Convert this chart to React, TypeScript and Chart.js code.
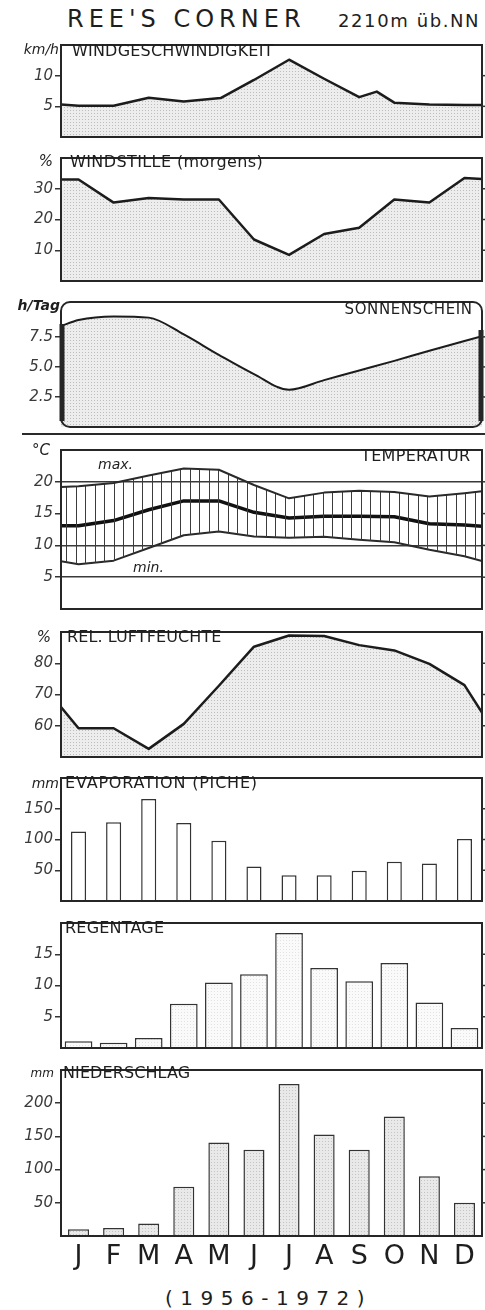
import React, { useEffect, useRef } from "react";
import { Chart, registerables } from "chart.js";

Chart.register(...registerables);

const FONT = '"DejaVu Sans", "Liberation Sans", sans-serif';

const months = ["J", "F", "M", "A", "M", "J", "J", "A", "S", "O", "N", "D"];

// WINDGESCHWINDIGKEIT (km/h) – x in months (0 = 1 Jan, 12 = 31 Dec)
const windX = [0, 0.5, 1.5, 2.5, 3.5, 4.55, 5.5, 6.5, 7.5, 8.5, 9.0, 9.5, 10.5, 11.5, 12];
const windY = [5.3, 5.1, 5.1, 6.4, 5.8, 6.35, 9.3, 12.6, 9.5, 6.5, 7.4, 5.6, 5.3, 5.2, 5.2];
const windTicks = [5, 10];
const windTickLabels = ["5", "10"];

// WINDSTILLE morgens (%)
const calmX = [0, 0.5, 1.5, 2.5, 3.5, 4.5, 5.5, 6.5, 7.5, 8.5, 9.5, 10.5, 11.5, 12];
const calmY = [33, 33, 25.5, 27, 26.5, 26.5, 13.5, 8.5, 15.3, 17.3, 26.5, 25.5, 33.5, 33.2];
const calmTicks = [10, 20, 30];
const calmTickLabels = ["10", "20", "30"];

// SONNENSCHEIN (h/Tag)
const sunX = [0, 0.5, 1.5, 2.5, 3.5, 4.5, 5.5, 6.5, 7.5, 8.5, 9.5, 10.5, 11.5, 12];
const sunY = [8.4, 8.9, 9.2, 9.1, 7.7, 6.0, 4.4, 3.1, 3.9, 4.7, 5.5, 6.35, 7.15, 7.55];
const sunTicks = [2.5, 5.0, 7.5];
const sunTickLabels = ["2.5", "5.0", "7.5"];

// TEMPERATUR (°C)
const tempX = [0, 0.5, 1.5, 2.5, 3.5, 4.5, 5.5, 6.5, 7.5, 8.5, 9.5, 10.5, 11.5, 12];
const tempMax = [19.2, 19.3, 19.8, 21.0, 22.1, 21.9, 19.5, 17.4, 18.3, 18.6, 18.4, 17.7, 18.2, 18.5];
const tempMean = [13.1, 13.1, 13.9, 15.6, 17.0, 17.0, 15.2, 14.3, 14.6, 14.6, 14.5, 13.4, 13.2, 13.0];
const tempMin = [7.5, 7.05, 7.6, 9.6, 11.6, 12.2, 11.4, 11.2, 11.35, 10.9, 10.5, 9.3, 8.3, 7.55];
const tempTicks = [5, 10, 15, 20];
const tempTickLabels = ["5", "10", "15", "20"];

// REL. LUFTFEUCHTE (%)
const rhX = [0, 0.5, 1.5, 2.5, 3.5, 4.5, 5.5, 6.5, 7.5, 8.5, 9.5, 10.5, 11.5, 12];
const rhY = [66, 59.2, 59.2, 52.6, 60.6, 72.8, 85.3, 88.9, 88.7, 85.8, 84.1, 79.8, 73, 64.2];
const rhTicks = [60, 70, 80];
const rhTickLabels = ["60", "70", "80"];

// EVAPORATION (PICHE) mm
const evap = [113, 128, 166, 127, 98, 56, 42, 42, 49, 64, 61, 101];
const evapTicks = [50, 100, 150];
const evapTickLabels = ["50", "100", "150"];

// REGENTAGE
const rainDays = [1.1, 0.85, 1.6, 7.1, 10.5, 11.8, 18.4, 12.8, 10.7, 13.6, 7.3, 3.2];
const rainDaysTicks = [5, 10, 15];
const rainDaysTickLabels = ["5", "10", "15"];

// NIEDERSCHLAG mm
const precip = [10, 12, 19, 74, 141, 130, 229, 153, 130, 180, 90, 50];
const precipTicks = [50, 100, 150, 200];
const precipTickLabels = ["50", "100", "150", "200"];

const W = 485;
const PAD = 4;

function pts(xs: number[], ys: number[]) {
  return xs.map((x, i) => ({ x, y: ys[i] }));
}

function dotPattern(ctx: CanvasRenderingContext2D, bg: string, dot: string) {
  const c = document.createElement("canvas");
  c.width = 3;
  c.height = 3;
  const g = c.getContext("2d")!;
  g.fillStyle = bg;
  g.fillRect(0, 0, 3, 3);
  g.fillStyle = dot;
  g.fillRect(1, 1, 1, 1);
  return ctx.createPattern(c, "repeat")!;
}

function hatchPattern(ctx: CanvasRenderingContext2D) {
  const c = document.createElement("canvas");
  c.width = 19;
  c.height = 4;
  const g = c.getContext("2d")!;
  g.fillStyle = "#3c3c3c";
  g.fillRect(0, 0, 1, 4);
  g.fillRect(9, 0, 1, 4);
  return ctx.createPattern(c, "repeat")!;
}

const framePlugin = {
  id: "frame",
  afterDatasetsDraw(chart: any, _args: any, opts: any) {
    const { ctx, chartArea: a } = chart;
    ctx.save();
    ctx.strokeStyle = "#262626";
    ctx.lineWidth = 2;
    if (opts && opts.rounded) {
      ctx.beginPath();
      (ctx as any).roundRect(a.left, a.top, a.right - a.left, a.bottom - a.top, 9);
      ctx.stroke();
      ctx.lineWidth = 5;
      ctx.beginPath();
      ctx.moveTo(a.left + 1, a.top + 22);
      ctx.lineTo(a.left + 1, a.bottom - 6);
      ctx.moveTo(a.right - 1, a.top + 28);
      ctx.lineTo(a.right - 1, a.bottom - 6);
      ctx.stroke();
    } else {
      ctx.strokeRect(a.left, a.top, a.right - a.left, a.bottom - a.top);
    }
    const y = chart.scales.y;
    ctx.lineWidth = 1.5;
    ctx.strokeStyle = "#333";
    y.ticks.forEach((t: any) => {
      const py = y.getPixelForValue(t.value);
      ctx.beginPath();
      ctx.moveTo(a.right, py);
      ctx.lineTo(a.right + 4, py);
      ctx.stroke();
    });
    ctx.restore();
  },
};

function yAxis(min: number, max: number, ticks: number[], labels: string[], grid: any = {}) {
  return {
    type: "linear",
    min,
    max,
    afterFit: (s: any) => {
      s.width = 61;
    },
    afterBuildTicks: (s: any) => {
      s.ticks = ticks.map((v) => ({ value: v }));
    },
    ticks: {
      autoSkip: false,
      padding: 2,
      color: "#3a3a3a",
      font: { family: FONT, size: 15, style: "italic" },
      callback: (v: number) => {
        const i = ticks.indexOf(v);
        return i >= 0 ? labels[i] : "";
      },
    },
    grid: {
      drawOnChartArea: false,
      drawTicks: true,
      tickLength: 6,
      tickColor: "#333",
      tickWidth: 1.5,
      lineWidth: 1.5,
      color: "#333",
      ...grid,
    },
    border: { display: false },
  };
}

const xLinear = { type: "linear", min: 0, max: 12, display: false };

function baseOptions(scales: any, axisH: number, frameOpts: any = {}) {
  return {
    responsive: false,
    maintainAspectRatio: false,
    devicePixelRatio: 1,
    animation: false,
    events: [],
    layout: { padding: { top: PAD, bottom: axisH ? 0 : PAD, left: 0, right: 3 } },
    plugins: { legend: { display: false }, tooltip: { enabled: false }, frame: frameOpts },
    scales,
  };
}

function lineDs(data: any, extra: any = {}) {
  return {
    data,
    borderColor: "#1c1c1c",
    borderWidth: 2.5,
    pointRadius: 0,
    tension: 0,
    borderJoinStyle: "round",
    ...extra,
  };
}

type Builder = (ctx: CanvasRenderingContext2D) => any;

function ChartPanel({ top, bottom, axisH = 0, build }: { top: number; bottom: number; axisH?: number; build: Builder }) {
  const ref = useRef<HTMLCanvasElement>(null);
  const h = bottom - top + PAD + (axisH ? axisH : PAD);
  useEffect(() => {
    const canvas = ref.current!;
    const ctx = canvas.getContext("2d")!;
    const cfg = build(ctx);
    cfg.plugins = [framePlugin];
    const chart = new Chart(canvas, cfg);
    return () => chart.destroy();
  }, []);
  return (
    <canvas
      ref={ref}
      width={W}
      height={h}
      style={{ position: "absolute", left: 0, top: top - PAD, width: W, height: h }}
    />
  );
}

function Txt({
  x,
  y,
  size,
  text,
  align = "left",
  italic = false,
  bold = false,
  spacing = 0,
  color = "#1e1e1e",
}: {
  x: number;
  y: number;
  size: number;
  text: string;
  align?: "left" | "right" | "center";
  italic?: boolean;
  bold?: boolean;
  spacing?: number;
  color?: string;
}) {
  const style: any = {
    position: "absolute",
    top: y - 0.48 * size,
    fontFamily: FONT,
    fontSize: size,
    lineHeight: 1,
    whiteSpace: "nowrap",
    fontStyle: italic ? "italic" : "normal",
    fontWeight: bold ? "bold" : "normal",
    letterSpacing: spacing,
    color,
  };
  if (align === "left") style.left = x;
  else if (align === "right") style.right = W - x - spacing;
  else {
    style.left = x;
    style.transform = "translateX(-50%)";
  }
  return <div style={style}>{text}</div>;
}

const FILL = "#e4e4e4";

export default function App() {
  return (
    <div style={{ position: "absolute", left: 0, top: 0, width: W, height: 1310, background: "#fff", overflow: "hidden" }}>
      <Txt x={67} y={18.5} size={24} text="REE'S CORNER" spacing={5} />
      <Txt x={338} y={20.5} size={18} text="2210m üb.NN" spacing={1.6} />

      {/* 1 Windgeschwindigkeit */}
      <ChartPanel
        top={38}
        bottom={144}
        build={(ctx) => ({
          type: "line",
          data: {
            datasets: [lineDs(pts(windX, windY), { fill: "origin", backgroundColor: dotPattern(ctx, "#ededed", "#bdbdbd") })],
          },
          options: baseOptions({ x: xLinear, y: yAxis(0, 15, windTicks, windTickLabels) }, 0),
        })}
      />
      <Txt x={59} y={49} size={14} text="km/h" align="right" italic />
      <Txt x={72} y={50.5} size={16} text="WINDGESCHWINDIGKEIT" spacing={0.2} />

      {/* 2 Windstille */}
      <ChartPanel
        top={151}
        bottom={288}
        build={(ctx) => ({
          type: "line",
          data: {
            datasets: [lineDs(pts(calmX, calmY), { fill: "origin", backgroundColor: dotPattern(ctx, "#ededed", "#bdbdbd") })],
          },
          options: baseOptions({ x: xLinear, y: yAxis(0, 40, calmTicks, calmTickLabels) }, 0),
        })}
      />
      <Txt x={53} y={161.5} size={15} text="%" align="right" italic />
      <Txt x={70} y={161.5} size={16} text="WINDSTILLE (morgens)" spacing={0.4} />

      {/* 3 Sonnenschein */}
      <ChartPanel
        top={295}
        bottom={434}
        build={(ctx) => ({
          type: "line",
          data: {
            datasets: [
              lineDs(pts(sunX, sunY), {
                fill: "origin",
                borderWidth: 2,
                cubicInterpolationMode: "monotone",
                backgroundColor: dotPattern(ctx, "#ededed", "#bdbdbd"),
              }),
            ],
          },
          options: baseOptions({ x: xLinear, y: yAxis(0, 10.4, sunTicks, sunTickLabels) }, 0, { rounded: true }),
        })}
      />
      <Txt x={60} y={305} size={14} text="h/Tag" align="right" italic bold />
      <Txt x={472} y={309} size={15} text="SONNENSCHEIN" align="right" spacing={0.6} />
      <div style={{ position: "absolute", left: 22, top: 433, width: 463, height: 2, background: "#2a2a2a" }} />

      {/* 4 Temperatur */}
      <ChartPanel
        top={443}
        bottom={616}
        build={(ctx) => ({
          type: "line",
          data: {
            datasets: [
              lineDs(pts(tempX, tempMax), { borderColor: "#2a2a2a", borderWidth: 2, fill: "+1", backgroundColor: hatchPattern(ctx) }),
              lineDs(pts(tempX, tempMin), { borderColor: "#2a2a2a", borderWidth: 2, fill: false }),
              lineDs(pts(tempX, tempMean), { borderColor: "#111", borderWidth: 3.5, fill: false }),
            ],
          },
          options: baseOptions(
            {
              x: xLinear,
              y: yAxis(0, 25, tempTicks, tempTickLabels, {
                drawOnChartArea: true,
                color: (c: any) => (c.tick && c.tick.value === 15 ? "rgba(0,0,0,0)" : "#3a3a3a"),
              }),
            },
            0
          ),
        })}
      />
      <Txt x={50} y={450} size={15} text="°C" align="right" italic />
      <Txt x={470} y={456} size={16} text="TEMPERATUR" align="right" spacing={0.3} />
      <Txt x={98} y={464} size={14} text="max." italic />
      <Txt x={133} y={567} size={14} text="min." italic />

      {/* 5 Rel. Luftfeuchte */}
      <ChartPanel
        top={625}
        bottom={764}
        build={(ctx) => ({
          type: "line",
          data: {
            datasets: [lineDs(pts(rhX, rhY), { fill: "origin", backgroundColor: dotPattern(ctx, "#ededed", "#bdbdbd") })],
          },
          options: baseOptions({ x: xLinear, y: yAxis(50, 90, rhTicks, rhTickLabels) }, 0),
        })}
      />
      <Txt x={51} y={637} size={15} text="%" align="right" italic />
      <Txt x={67} y={637} size={16} text="REL. LUFTFEUCHTE" spacing={0.1} />

      {/* 6 Evaporation */}
      <ChartPanel
        top={771}
        bottom={908}
        build={() => ({
          type: "bar",
          data: {
            labels: months,
            datasets: [
              {
                data: evap,
                backgroundColor: "#ffffff",
                borderColor: "#333",
                borderWidth: 1.5,
                barPercentage: 0.43,
                categoryPercentage: 1,
              },
            ],
          },
          options: baseOptions(
            { x: { type: "category", display: false, offset: true }, y: yAxis(0, 200, evapTicks, evapTickLabels) },
            0
          ),
        })}
      />
      <Txt x={59} y={783} size={14} text="mm" align="right" italic />
      <Txt x={65} y={783} size={16} text="EVAPORATION (PICHE)" spacing={0.8} />

      {/* 7 Regentage */}
      <ChartPanel
        top={916}
        bottom={1055}
        build={(ctx) => ({
          type: "bar",
          data: {
            labels: months,
            datasets: [
              {
                data: rainDays,
                backgroundColor: dotPattern(ctx, "#fafafa", "#e2e2e2"),
                borderColor: "#333",
                borderWidth: 1.5,
                barPercentage: 0.79,
                categoryPercentage: 1,
              },
            ],
          },
          options: baseOptions(
            { x: { type: "category", display: false, offset: true }, y: yAxis(0, 20, rainDaysTicks, rainDaysTickLabels) },
            0
          ),
        })}
      />
      <Txt x={65} y={928} size={16} text="REGENTAGE" spacing={0.2} />

      {/* 8 Niederschlag */}
      <ChartPanel
        top={1063}
        bottom={1236}
        axisH={40}
        build={(ctx) => ({
          type: "bar",
          data: {
            labels: months,
            datasets: [
              {
                data: precip,
                backgroundColor: dotPattern(ctx, "#e9e9e9", "#c4c4c4"),
                borderColor: "#333",
                borderWidth: 1.5,
                barPercentage: 0.6,
                categoryPercentage: 1,
              },
            ],
          },
          options: baseOptions(
            {
              x: {
                type: "category",
                offset: true,
                grid: { display: false, drawTicks: false },
                border: { display: false },
                ticks: {
                  autoSkip: false,
                  maxRotation: 0,
                  padding: 5,
                  color: "#1e1e1e",
                  font: { family: FONT, size: 27 },
                },
                afterFit: (s: any) => {
                  s.height = 40;
                },
              },
              y: yAxis(0, 250, precipTicks, precipTickLabels),
            },
            40
          ),
        })}
      />
      <Txt x={54} y={1073} size={12} text="mm" align="right" italic />
      <Txt x={63} y={1073} size={16} text="NIEDERSCHLAG" spacing={0.1} />

      <Txt x={165} y={1298} size={20} text="(1956-1972)" spacing={7.5} />
    </div>
  );
}
